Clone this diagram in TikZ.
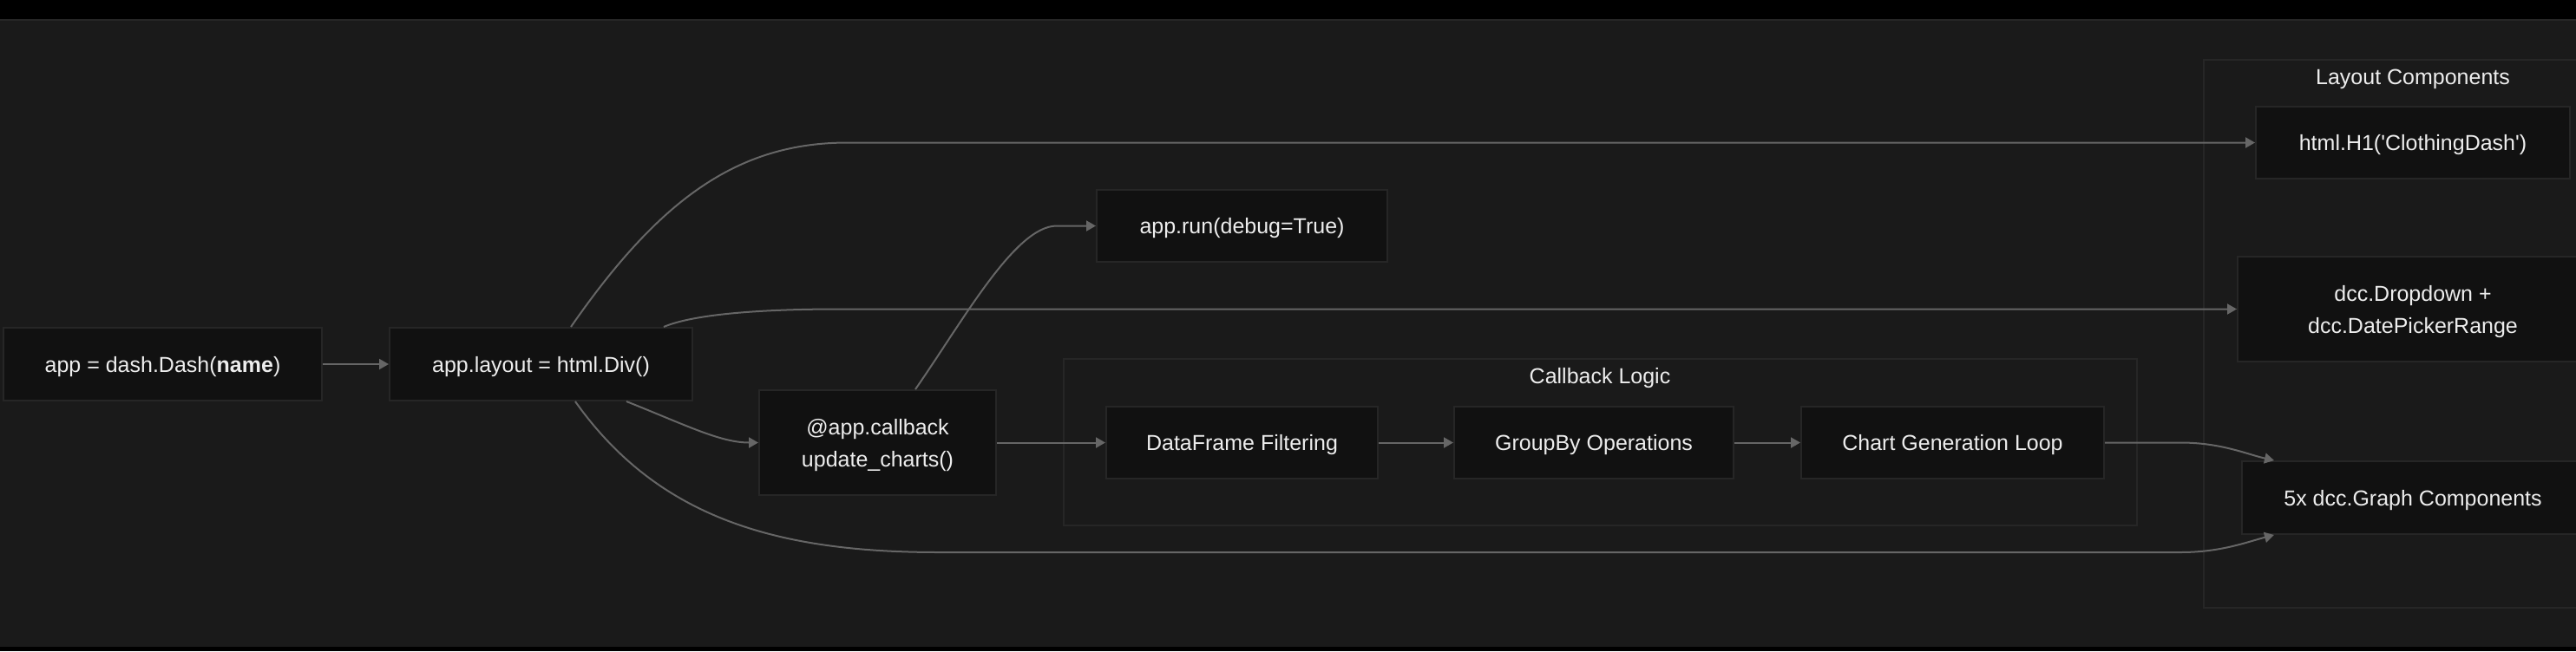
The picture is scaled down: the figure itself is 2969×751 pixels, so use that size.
\documentclass[tikz,border=0pt]{standalone}
\usepackage{fontspec}
\setmainfont{Liberation Sans}
\usetikzlibrary{calc,arrows.meta}
\definecolor{canvas}{HTML}{1A1A1A}
\definecolor{boxfill}{HTML}{111111}
\definecolor{boxline}{HTML}{262626}
\definecolor{wire}{HTML}{666666}
\definecolor{ink}{HTML}{EDEDED}

\begin{document}
\begin{tikzpicture}[x=0.5pt, y=-0.5pt,
    every node/.style={font=\fontsize{12.5}{18.5}\selectfont, text=ink},
    comp/.style={draw=boxline, line width=1pt, fill=boxfill, inner sep=0pt, text depth=0pt, align=center},
    grp/.style={draw=boxline, line width=1pt, fill=canvas},
    flow/.style={draw=wire, line width=1pt, -{Triangle[length=5.5pt,width=6pt]}}]
    % page
    \clip (0,0) rectangle (2969,751);
    \fill[canvas] (0,0) rectangle (2969,751);
    \fill[black] (0,0) rectangle (2969,22);
    \fill[black] (0,746) rectangle (2969,751);
    \draw[boxline, line width=1pt] (0,23) -- (2969,23);
    % groups
    \draw[grp] (1226,414) rectangle (2463,606);
    \node[anchor=base] (cbtitle) at (1844,442) {Callback Logic};
    \draw[grp] (2540,69) rectangle (3022,701);
    \node[anchor=base] (lytitle) at (2781,97) {Layout Components};
    % app side
    \node[comp, minimum width=183.5pt, minimum height=42pt] (dashapp) at (187.5,420) {app = dash.Dash(\textbf{name})};
    \node[comp, minimum width=174.5pt, minimum height=42pt] (layout) at (623.5,420) {app.layout = html.Div()};
    \node[comp, minimum width=136.5pt, minimum height=60.5pt] (callback) at (1011.5,510.5) {@app.callback\\update\_charts()};
    \node[comp, minimum width=167.5pt, minimum height=41.5pt] (runapp) at (1431.5,260.5) {app.run(debug=True)};
    % callback logic
    \node[comp, minimum width=156.5pt, minimum height=41.5pt] (filter) at (1431.5,510.5) {DataFrame Filtering};
    \node[comp, minimum width=161pt, minimum height=41.5pt] (groupby) at (1837,510.5) {GroupBy Operations};
    \node[comp, minimum width=174.5pt, minimum height=41.5pt] (chartloop) at (2250.5,510.5) {Chart Generation Loop};
    % layout components
    \node[comp, minimum width=181pt, minimum height=41.5pt] (heading) at (2781,164.5) {html.H1(\textquotesingle ClothingDash\textquotesingle)};
    \node[comp, minimum width=202pt, minimum height=60.5pt] (picker) at (2781,356.5) {dcc.Dropdown +\\dcc.DatePickerRange};
    \node[comp, minimum width=197pt, minimum height=42pt] (graphs) at (2781,574) {5x dcc.Graph Components};
    % links
    \draw[flow] (dashapp.east) -- (layout.west);
    \draw[flow] ($(layout.north)+(34.5,0)$) .. controls (760,230) and (850,164.5) .. (977,164.5) -- (heading.west);
    \draw[flow] ($(layout.north)+(141.5,0)$) .. controls (800,362) and (880,356.5) .. (967,356.5) -- (picker.west);
    \draw[flow] ($(layout.south)+(98.5,0)$) .. controls (790,490) and (830,510.5) .. (callback.west);
    \draw[flow] ($(layout.south)+(39.5,0)$) .. controls (760,600) and (900,637) .. (1083,637) -- (2513,637) .. controls (2560,637) and (2590,625) .. ($(graphs.south west)+(38,0)$);
    \draw[flow] ($(callback.north)+(43.5,0)$) .. controls (1110,370) and (1170,260.5) .. (1218,260.5) -- (runapp.west);
    \draw[flow] (callback.east) -- (filter.west);
    \draw[flow] (filter.east) -- (groupby.west);
    \draw[flow] (groupby.east) -- (chartloop.west);
    \draw[flow] (chartloop.east) -- (2513,510.5) .. controls (2560,510.5) and (2590,524) .. ($(graphs.north west)+(38,0)$);
\end{tikzpicture}
\end{document}
